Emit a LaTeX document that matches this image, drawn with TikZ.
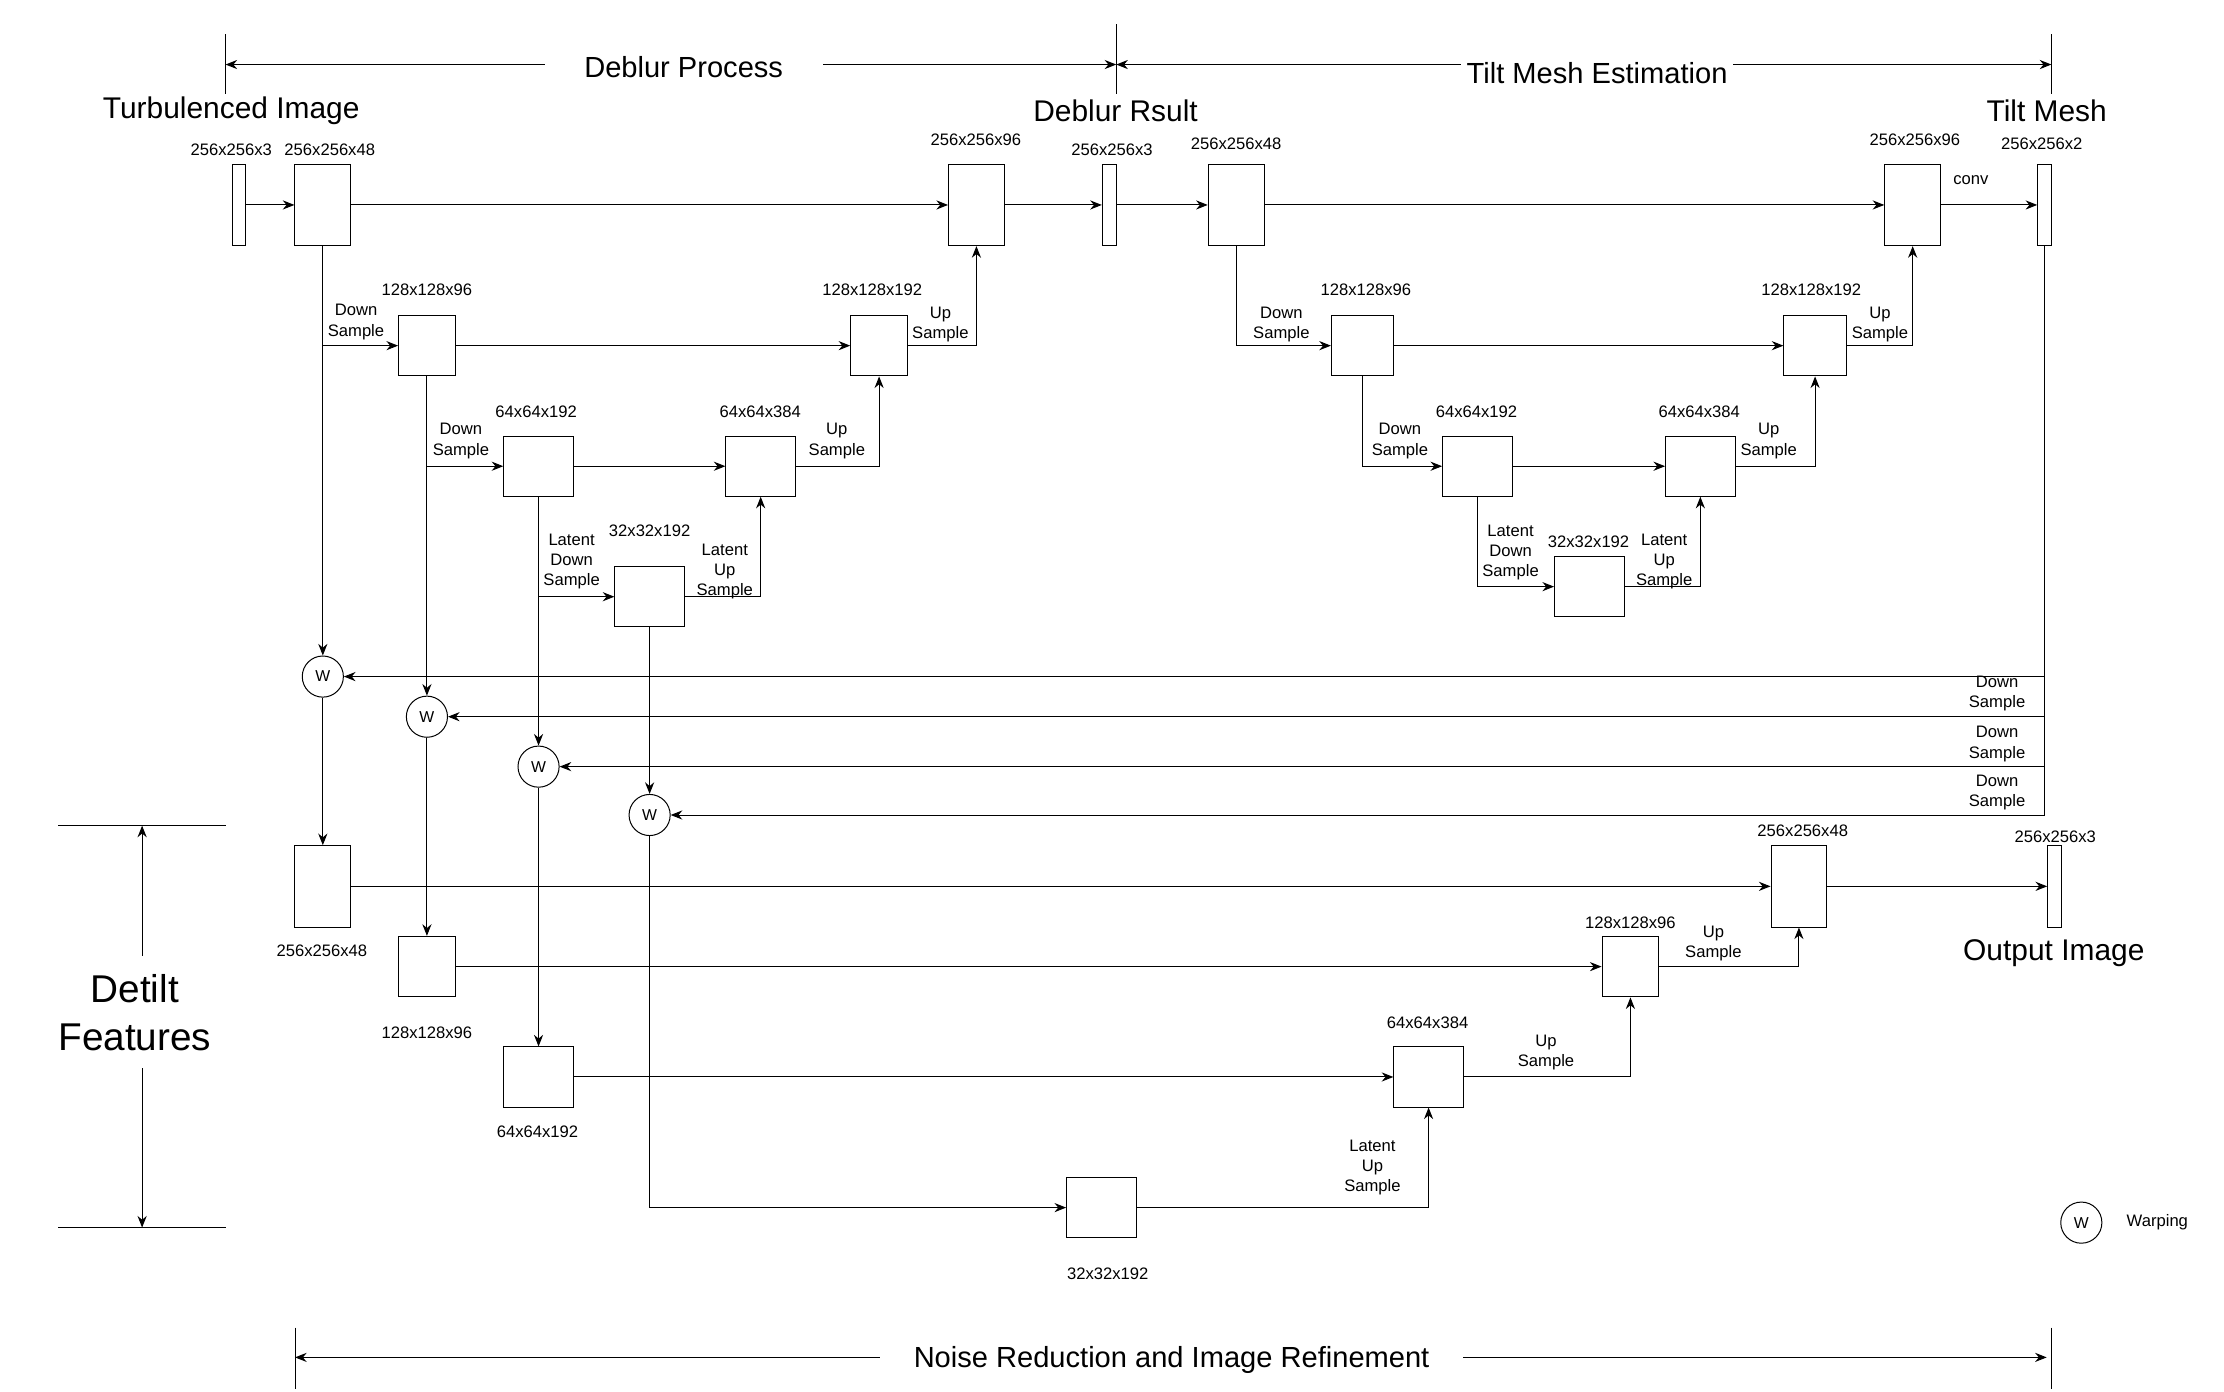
\documentclass[tikz,border=0pt]{standalone}
\usepackage{fontspec}
\setmainfont{Liberation Sans}
\usetikzlibrary{arrows.meta, positioning, calc}

\begin{document}
\begin{tikzpicture}[
	x=0.03cm, y=-0.03cm,
	fmap/.style={rectangle, draw, fill=white, inner sep=0pt, line width=0.6pt},
	thinmap/.style={fmap, minimum width=0.29cm, minimum height=1.72cm},
	bigmap/.style={fmap, minimum width=1.18cm, minimum height=1.72cm},
	midmap/.style={fmap, minimum width=1.2cm, minimum height=1.28cm},
	sqmap/.style={fmap, minimum width=1.47cm, minimum height=1.27cm},
	warp/.style={circle, draw, fill=white, inner sep=0pt, minimum size=0.87cm, line width=0.6pt, font=\fontsize{9.5}{11}\selectfont},
	dims/.style={font=\fontsize{10}{12}\selectfont, inner sep=0pt},
	annot/.style={font=\fontsize{10}{12.2}\selectfont, align=center, inner sep=0pt},
	bigtext/.style={font=\fontsize{17.5}{21}\selectfont, inner sep=0pt},
	arrow/.style={-{Stealth[length=7pt, width=5.5pt]}, line width=0.6pt},
	bothway/.style={{Stealth[length=7pt, width=5.5pt]}-{Stealth[length=7pt, width=5.5pt]}, line width=0.7pt},
	bartick/.style={line width=0.6pt}
	]
	\useasboundingbox (0,0) rectangle (1568,981);

	% --- Top brackets: Deblur Process / Tilt Mesh Estimation ---
	\coordinate (dpl) at (159,45.5);
	\coordinate (dpm) at (787,45.5);
	\coordinate (dpr) at (1446.3,45.5);
	\draw[bartick] (159,24) -- (159,66);
	\draw[bartick] (787,17) -- (787,66);
	\draw[bartick] (1446.3,24) -- (1446.3,66);
	\draw[bothway] (dpl) -- (dpm);
	\draw[bothway] (dpm) -- (dpr);
	\node[bigtext, fill=white, inner xsep=0.84cm] (dp) at (482,47.5) {Deblur Process};
	\node[bigtext, fill=white, inner xsep=0.12cm, inner ysep=0.1cm] (tme) at (1126,51.5) {Tilt Mesh Estimation};

	\node[bigtext, font=\fontsize{18}{21}\selectfont] (turb) at (163,78) {Turbulenced Image};
	\node[bigtext, font=\fontsize{18}{21}\selectfont] (dbr) at (786.5,78) {Deblur Rsult};
	\node[bigtext, font=\fontsize{18}{21}\selectfont] (tmt) at (1443,78) {Tilt Mesh};

	% --- Top row ---
	\node[thinmap] (tin) at (168.6,144.5) {};
	\node[bigmap] (e48) at (227.6,144.5) {};
	\node[bigmap] (e96) at (688.4,144.5) {};
	\node[thinmap] (dres) at (782,144.5) {};
	\node[bigmap] (t48) at (871.5,144.5) {};
	\node[bigmap] (t96) at (1348.5,144.5) {};
	\node[thinmap] (tm) at (1441.5,144.5) {};

	\node[dims] (ltin) at (163,105.5) {256x256x3};
	\node[dims] (le48) at (232.5,105.5) {256x256x48};
	\node[dims] (le96) at (688,98.5) {256x256x96};
	\node[dims] (ldres) at (784,105.5) {256x256x3};
	\node[dims] (lt48) at (871.5,101.5) {256x256x48};
	\node[dims] (lt96) at (1350,98.5) {256x256x96};
	\node[dims] (ltm) at (1439.5,101.5) {256x256x2};
	\node[annot] (conv) at (1389.5,127) {conv};

	\draw[arrow] (tin) -- (e48);
	\draw[arrow] (e48) -- (e96);
	\draw[arrow] (e96) -- (dres);
	\draw[arrow] (dres) -- (t48);
	\draw[arrow] (t48) -- (t96);
	\draw[arrow] (t96) -- (tm);

	% --- Deblur encoder / decoder ---
	\node[midmap] (e128) at (301,243.7) {};
	\node[midmap] (e192) at (619.8,243.7) {};
	\node[sqmap] (e64) at (379.7,328.7) {};
	\node[sqmap] (e384) at (536.3,328.7) {};
	\node[sqmap] (e32) at (458,420.7) {};

	\node[dims] (le128) at (301,204) {128x128x96};
	\node[dims] (le192) at (615,204) {128x128x192};
	\node[dims] (le64) at (378,290) {64x64x192};
	\node[dims] (le384) at (536,290) {64x64x384};
	\node[dims] (le32) at (458,374) {32x32x192};

	\node[annot] (ds1) at (251,227) {Down\\Sample};
	\node[annot] (us1) at (663,229) {Up\\Sample};
	\node[annot] (ds2) at (325,311) {Down\\Sample};
	\node[annot] (us2) at (590,311) {Up\\Sample};
	\node[annot] (lds) at (403,396) {Latent\\Down\\Sample};
	\node[annot] (lus) at (511,403) {Latent\\Up\\Sample};

	\draw[arrow] (e48.south) |- (e128.west);
	\draw[arrow] (e128) -- (e192);
	\draw[arrow] (e192.east) -| (e96.south);
	\draw[arrow] (e128.south) |- (e64.west);
	\draw[arrow] (e64) -- (e384);
	\draw[arrow] (e384.east) -| (e192.south);
	\draw[arrow] (e64.south) |- (e32.west);
	\draw[arrow] (e32.east) -| (e384.south);

	% --- Tilt mesh encoder / decoder ---
	\node[midmap, minimum width=1.32cm] (t128) at (960.7,243.7) {};
	\node[midmap, minimum width=1.32cm] (t192) at (1279.7,243.7) {};
	\node[sqmap] (t64) at (1041.6,328.7) {};
	\node[sqmap] (t384) at (1198.8,328.7) {};
	\node[sqmap] (t32) at (1120.5,413.6) {};

	\node[dims] (lt128) at (963,204) {128x128x96};
	\node[dims] (lt192) at (1277,204) {128x128x192};
	\node[dims] (lt64) at (1041,290) {64x64x192};
	\node[dims] (lt384) at (1198,290) {64x64x384};
	\node[dims] (lt32) at (1120,382) {32x32x192};

	\node[annot] (tds1) at (903.4,229) {Down\\Sample};
	\node[annot] (tus1) at (1325.4,229) {Up\\Sample};
	\node[annot] (tds2) at (987,311) {Down\\Sample};
	\node[annot] (tus2) at (1247,311) {Up\\Sample};
	\node[annot] (tlds) at (1065,389.5) {Latent\\Down\\Sample};
	\node[annot] (tlus) at (1173.3,396) {Latent\\Up\\Sample};

	\draw[arrow] (t48.south) |- (t128.west);
	\draw[arrow] (t128) -- (t192);
	\draw[arrow] (t192.east) -| (t96.south);
	\draw[arrow] (t128.south) |- (t64.west);
	\draw[arrow] (t64) -- (t384);
	\draw[arrow] (t384.east) -| (t192.south);
	\draw[arrow] (t64.south) |- (t32.west);
	\draw[arrow] (t32.east) -| (t384.south);

	% --- Warping ---
	\node[warp] (w1) at (227.6,477) {W};
	\node[warp] (w2) at (301,505.3) {W};
	\node[warp] (w3) at (379.7,540.5) {W};
	\node[warp] (w4) at (458,574.6) {W};

	\draw[arrow] (e48) -- (w1);
	\draw[arrow] (e128) -- (w2);
	\draw[arrow] (e64) -- (w3);
	\draw[arrow] (e32) -- (w4);

	\draw[arrow] (tm.south) |- (w1.east);
	\draw[arrow] (tm.south) |- (w2.east);
	\draw[arrow] (tm.south) |- (w3.east);
	\draw[arrow] (tm.south) |- (w4.east);
	\node[annot] (mds1) at (1408,489) {Down\\Sample};
	\node[annot] (mds2) at (1408,524.5) {Down\\Sample};
	\node[annot] (mds3) at (1408,558.5) {Down\\Sample};

	% --- Refinement decoder ---
	\node[bigmap] (r48) at (227.6,624.9) {};
	\node[midmap] (r128) at (301,681.5) {};
	\node[sqmap] (r64) at (379.7,759.3) {};
	\node[sqmap] (r32) at (776.5,851.4) {};
	\node[sqmap] (u384) at (1007.2,759.3) {};
	\node[midmap] (u128) at (1149.5,681.5) {};
	\node[bigmap] (u48) at (1268.3,624.9) {};
	\node[thinmap] (outimg) at (1448.5,624.9) {};

	\node[dims] (lr48) at (227,670) {256x256x48};
	\node[dims] (lr128) at (301,728) {128x128x96};
	\node[dims] (lr64) at (379,798) {64x64x192};
	\node[dims] (lr32) at (781,898) {32x32x192};
	\node[dims] (lu48) at (1271,586) {256x256x48};
	\node[dims] (lout) at (1449,590) {256x256x3};
	\node[dims] (lu128) at (1149.5,650.5) {128x128x96};
	\node[dims] (lu384) at (1006.5,721) {64x64x384};

	\node[annot] (rus1) at (1208,665) {Up\\Sample};
	\node[annot] (rus2) at (1090,742) {Up\\Sample};
	\node[annot] (rlus) at (967.6,823) {Latent\\Up\\Sample};
	\node[bigtext, font=\fontsize{18}{21}\selectfont] (outt) at (1448,672) {Output Image};

	\draw[arrow] (w1) -- (r48);
	\draw[arrow] (w2) -- (r128);
	\draw[arrow] (w3) -- (r64);
	\draw[arrow] (w4.south) |- (r32.west);
	\draw[arrow] (r48) -- (u48);
	\draw[arrow] (u48) -- (outimg);
	\draw[arrow] (r128) -- (u128);
	\draw[arrow] (r64) -- (u384);
	\draw[arrow] (r32.east) -| (u384.south);
	\draw[arrow] (u384.east) -| (u128.south);
	\draw[arrow] (u128.east) -| (u48.south);

	% --- Detilt Features bracket ---
	\draw[bartick] (41,582.1) -- (159,582.1);
	\draw[bartick] (41,865.5) -- (159,865.5);
	\coordinate (dft) at (100.2,582.1);
	\coordinate (dfb) at (100.2,865.5);
	\draw[bothway] (dft) -- (dfb);
	\node[font=\fontsize{23.3}{28.7}\selectfont, align=center, fill=white, inner xsep=0pt, inner ysep=0.38cm] (df) at (95,713.8) {Detilt\\Features};

	% --- Bottom bracket ---
	\draw[bartick] (208,936) -- (208,979);
	\draw[bartick] (1446.3,936) -- (1446.3,979);
	\coordinate (nrl) at (208,957);
	\coordinate (nrr) at (1443,957);
	\draw[bothway] (nrl) -- (nrr);
	\node[bigtext, fill=white, inner xsep=0.71cm] (nr) at (826,959) {Noise Reduction and Image Refinement};

	% --- Legend ---
	\node[warp] (wl) at (1467.4,862) {W};
	\node[annot] (wlt) at (1521,862) {Warping};
\end{tikzpicture}
\end{document}
